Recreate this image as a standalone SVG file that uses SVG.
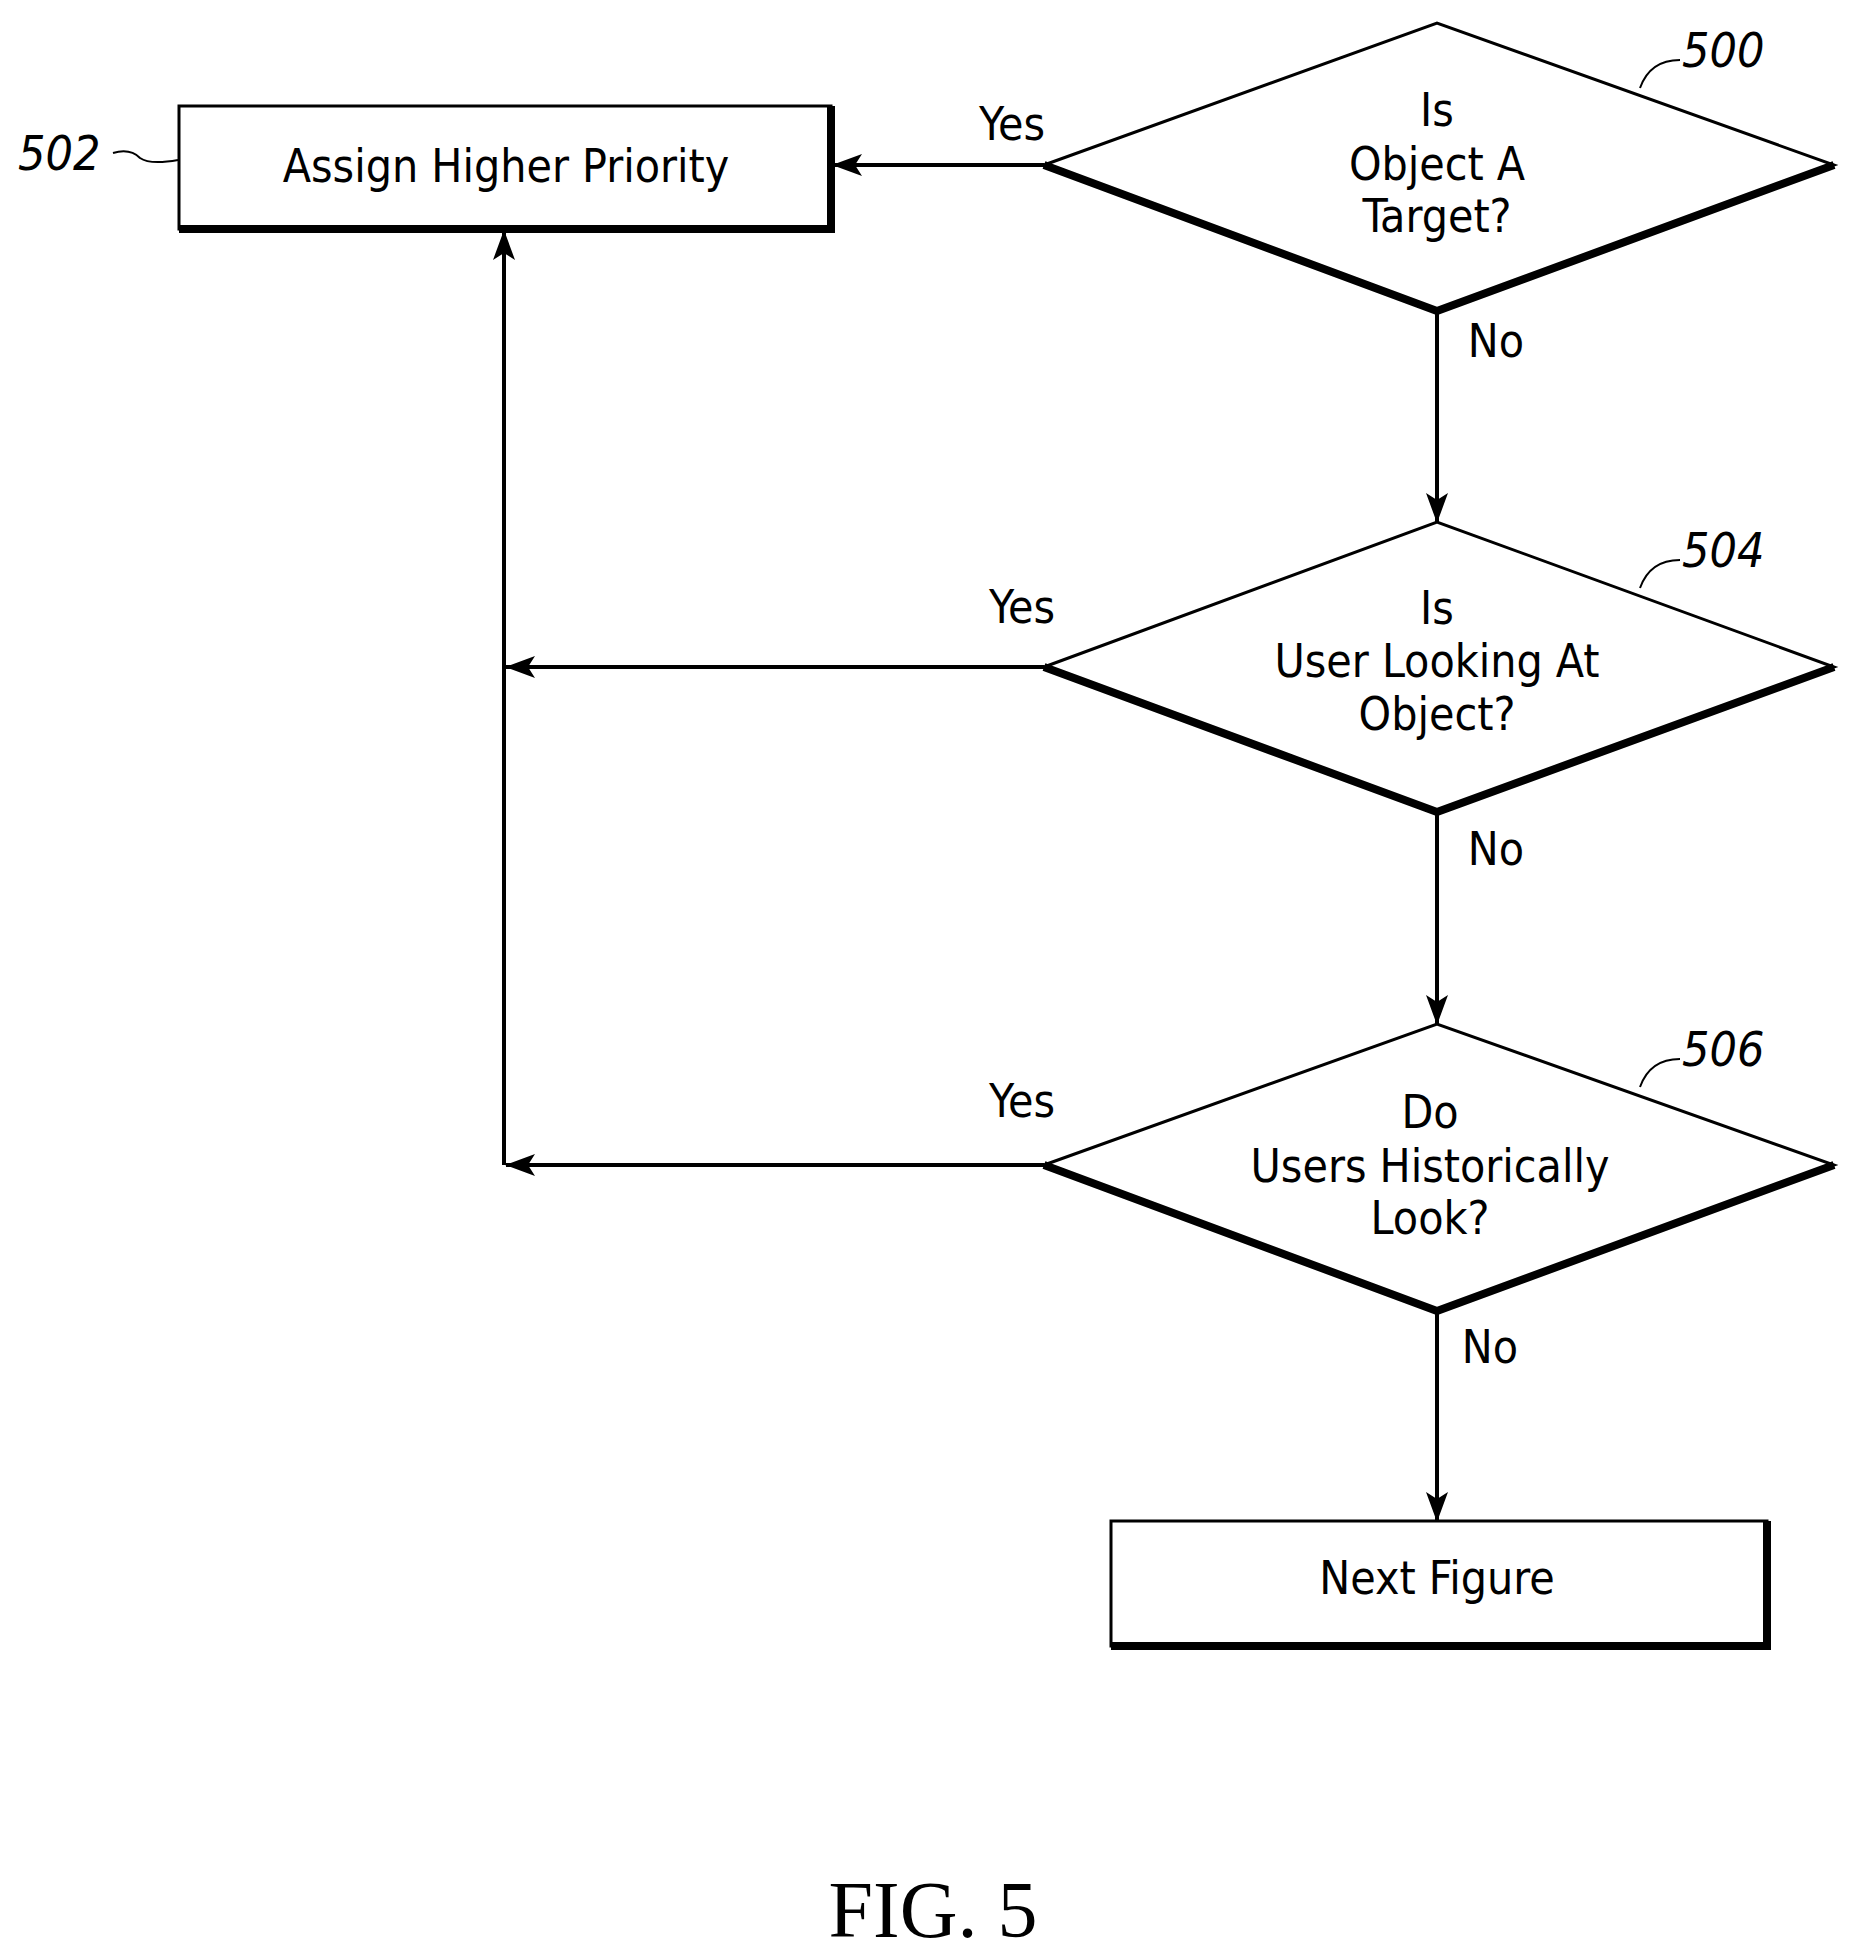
<svg xmlns="http://www.w3.org/2000/svg" width="1852" height="1957" viewBox="0 0 1852 1957">
<style>
.t{font-family:"DejaVu Sans Condensed","DejaVu Sans",sans-serif;font-stretch:condensed;font-size:46px;fill:#000;text-anchor:middle}
.l{font-family:"DejaVu Sans Condensed","DejaVu Sans",sans-serif;font-stretch:condensed;font-size:48px;font-style:italic;fill:#000}
.s{fill:#fff;stroke:#000;stroke-width:3}
.k{fill:none;stroke:#000;stroke-width:8}
.c{fill:none;stroke:#000;stroke-width:4}
</style>
<defs><marker id="a" viewBox="0 0 30 22" refX="29" refY="11" markerWidth="30" markerHeight="22" markerUnits="userSpaceOnUse" orient="auto"><path d="M0,0 L30,11 L0,22 L7,11 Z" fill="#000"/></marker></defs>
<g id="connectors">
<path class="c" d="M1044,165 H833" marker-end="url(#a)"/>
<path class="c" d="M1437,311 V522" marker-end="url(#a)"/>
<path class="c" d="M1437,812 V1024" marker-end="url(#a)"/>
<path class="c" d="M1437,1311 V1521" marker-end="url(#a)"/>
<path class="c" d="M1044,667 H506" marker-end="url(#a)"/>
<path class="c" d="M1044,1165 H506" marker-end="url(#a)"/>
<path class="c" d="M504,1165 V231" marker-end="url(#a)"/>
<path class="c" style="stroke-width:2" d="M113,153 Q130,148 140,158 Q150,165 178,160"/>
<path class="c" style="stroke-width:2" d="M1640,88 Q1650,60 1680,60"/>
<path class="c" style="stroke-width:2" d="M1640,588 Q1650,560 1680,560"/>
<path class="c" style="stroke-width:2" d="M1640,1087 Q1650,1059 1680,1059"/>
<text class="t" x="1012" y="140">Yes</text>
<text class="t" x="1022" y="623">Yes</text>
<text class="t" x="1022" y="1117">Yes</text>
<text class="t" x="1496" y="357">No</text>
<text class="t" x="1496" y="865">No</text>
<text class="t" x="1490" y="1363">No</text>
</g>
<g id="n502">
<rect class="s" x="179" y="106" width="652" height="123"/>
<path class="k" d="M179,229 H831 V106"/>
<text class="t" x="506" y="182">Assign Higher Priority</text>
<text class="l" x="18" y="170">502</text>
</g>
<g id="n500">
<path class="s" d="M1044,165 L1437,23 L1834,165 L1437,311 Z"/>
<path class="k" d="M1044,165 L1437,311 L1834,165"/>
<text class="t" x="1437" y="126">Is</text>
<text class="t" x="1437" y="180">Object A</text>
<text class="t" x="1437" y="232">Target?</text>
<text class="l" x="1682" y="67">500</text>
</g>
<g id="n504">
<path class="s" d="M1044,667 L1437,522 L1834,667 L1437,812 Z"/>
<path class="k" d="M1044,667 L1437,812 L1834,667"/>
<text class="t" x="1437" y="624">Is</text>
<text class="t" x="1437" y="677">User Looking At</text>
<text class="t" x="1437" y="730">Object?</text>
<text class="l" x="1682" y="567">504</text>
</g>
<g id="n506">
<path class="s" d="M1044,1165 L1437,1024 L1834,1165 L1437,1311 Z"/>
<path class="k" d="M1044,1165 L1437,1311 L1834,1165"/>
<text class="t" x="1430" y="1128">Do</text>
<text class="t" x="1430" y="1182">Users Historically</text>
<text class="t" x="1430" y="1234">Look?</text>
<text class="l" x="1682" y="1066">506</text>
</g>
<g id="nnext">
<rect class="s" x="1111" y="1521" width="656" height="125"/>
<path class="k" d="M1111,1646 H1767 V1521"/>
<text class="t" x="1437" y="1594">Next Figure</text>
</g>
<text x="933" y="1937" style="font-family:'Liberation Serif',serif;font-size:80px;text-anchor:middle">FIG. 5</text>
</svg>
